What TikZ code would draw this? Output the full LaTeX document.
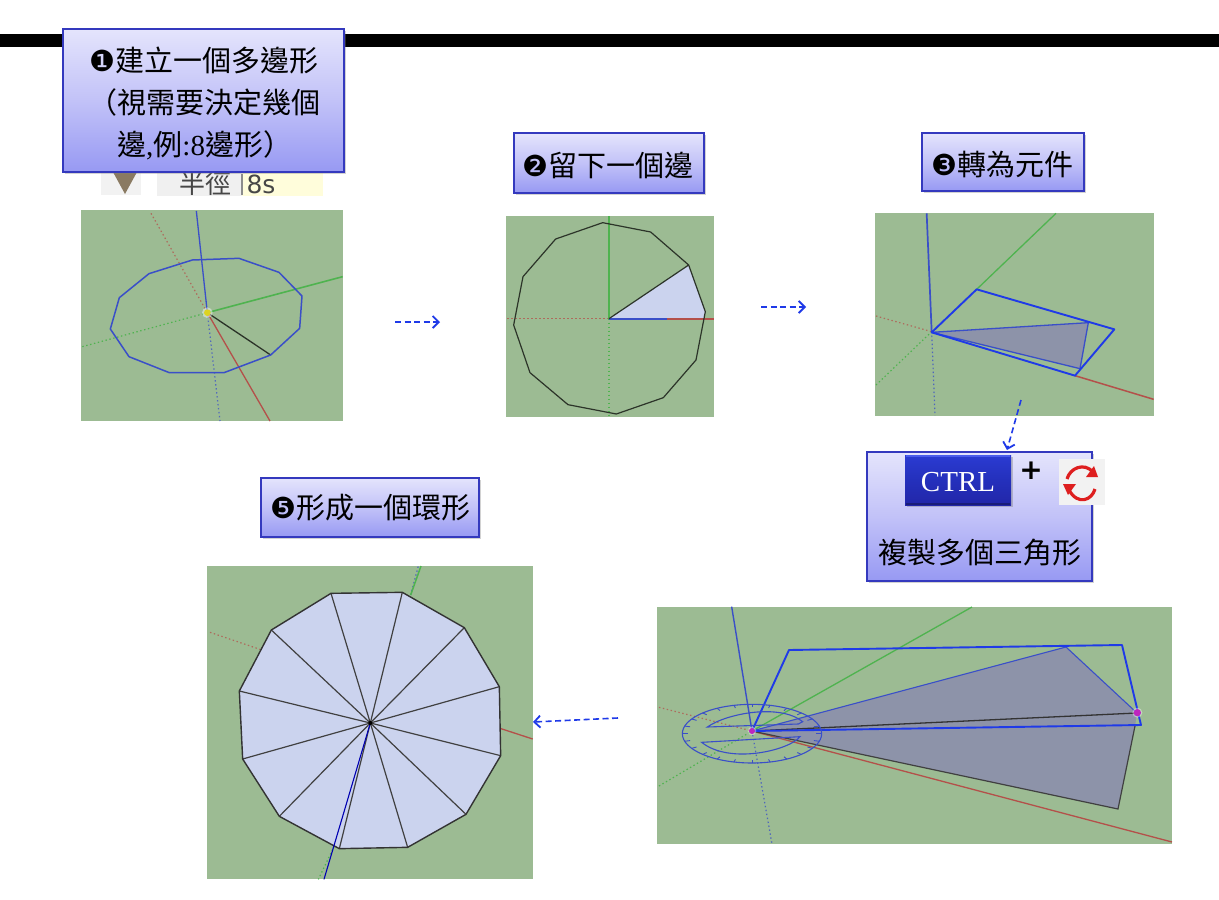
\documentclass[tikz,border=0pt]{standalone}
\usepackage{fontspec}
\setmainfont{Liberation Serif}
\newfontfamily\cjk{Noto Sans CJK TC}
\newfontfamily\symf{DejaVu Sans}
\usetikzlibrary{arrows.meta,shadows}
\definecolor{pbg}{HTML}{9CBB93}
\definecolor{axb}{HTML}{3A4FC8}
\definecolor{axr}{HTML}{B4504A}
\definecolor{axg}{HTML}{4FB34F}
\definecolor{edgeb}{HTML}{1F3AE8}
\definecolor{wedge}{HTML}{CBD3EE}
\definecolor{grayfill}{HTML}{8D93A9}
\definecolor{boxedge}{HTML}{3439BE}
\definecolor{boxtop}{HTML}{E4E4FC}
\definecolor{boxmid}{HTML}{C2C2F8}
\definecolor{boxbot}{HTML}{9799F3}
\definecolor{tritone}{HTML}{8A7A62}
\definecolor{ctrltop}{HTML}{2B3BD2}
\definecolor{ctrlmid}{HTML}{2430BC}
\definecolor{ctrlbot}{HTML}{2226A8}
\definecolor{ctrlhi}{HTML}{4A5CEA}
\definecolor{ctrllo}{HTML}{1A1D78}
\definecolor{iconred}{HTML}{DE1F1F}
\newcommand{\capfont}{\cjk\fontsize{29}{42}\selectfont}
\newcommand{\numfont}{\symf\fontsize{29}{42}\selectfont}
\tikzset{
  callout/.style={draw=boxedge,line width=1.2pt,top color=boxtop,bottom color=boxbot,middle color=boxmid,inner sep=0pt,
    drop shadow={opacity=.35,shadow xshift=2pt,shadow yshift=-2pt}},
  captext/.style={inner sep=0pt,font=\capfont,text=black},
  panel/.style={fill=pbg,draw=none,inner sep=0pt},
  flowarrow/.style={draw=edgeb,line width=1.6pt,dash pattern=on 6pt off 3.5pt,-{Straight Barb[length=6pt,width=12pt,line width=1.8pt]}},
  dotline/.style={line width=1.2pt,dash pattern=on 1.4pt off 2.6pt},
  solidax/.style={line width=1.3pt},
  edgeline/.style={line width=1.2pt,draw=black!72!pbg},
  zoomed/.style={shift={(#1)},scale=0.33333}
}
\begin{document}
\begin{tikzpicture}[x=1pt,y=-1pt]
\useasboundingbox (0,0) rectangle (1219,900);
\fill[white] (0,0) rectangle (1219,900);
\fill[black] (0,34) rectangle (1219,47);

% toolbar crop
\fill[black!5] (101,172) rectangle (141,195);
\fill[black!6] (157,172) rectangle (242,196);
\fill[yellow!14] (242,172) rectangle (323,196);
\fill[tritone] (113,172) -- (137,172) -- (125,194) -- cycle;
\node[inner sep=0pt,text=black!72,font=\cjk\fontsize{26}{26}\selectfont] (tbl) at (205,184) {半徑};
\node[inner sep=0pt,text=black!72,font=\symf\fontsize{25}{25}\selectfont] (tbv) at (261,184) {8s};
\fill[black!45] (241,174) rectangle (242.5,195);

% panels
\node[panel,minimum width=262pt,minimum height=211pt] (p1) at (212,315.5) {};
\node[panel,minimum width=208pt,minimum height=201pt] (p2) at (610,316.5) {};
\node[panel,minimum width=279pt,minimum height=203pt] (p3) at (1014.5,314.5) {};
\node[panel,minimum width=515pt,minimum height=237pt] (p4) at (914.5,725.5) {};
\node[panel,minimum width=326pt,minimum height=313pt] (p5) at (370,722.5) {};

% panel 1
\begin{scope}[zoomed={75,205}]
\draw[axr!75!pbg,dotline] (228,25) -- (397,323);
\draw[axb!75!pbg,dotline] (397,323) -- (435,648);
\draw[axg,dotline] (22,425) -- (397,323);
\draw[axb,solidax] (364,18) -- (397,323);
\draw[axr,solidax] (397,323) -- (585,648);
\draw[axg,line width=1.6pt] (397,323) -- (803,215);
\draw[edgeline,line width=1.3pt] (397,323) -- (587,450);
\draw[axb,line width=1.5pt,line join=round] (352,165) -- (492,160) -- (612,202) -- (681,273) -- (674,370) -- (587,450) -- (447,503) -- (283,503) -- (162,455) -- (106,372) -- (133,278) -- (222,206) -- cycle;
\fill[white,opacity=.45] (397,323) circle (16);
\fill[yellow!85!black] (397,323) circle (10);
\end{scope}

% panel 2
\begin{scope}[zoomed={500,210}]
\fill[wedge] (327,326) -- (566,165) -- (616,305) -- (611,326) -- cycle;
\draw[axr!75!pbg,dotline] (22,326) -- (327,326);
\draw[axg,dotline] (327,326) -- (327,620);
\draw[axg,line width=1.7pt] (327,18) -- (327,326);
\draw[axr,line width=1.7pt] (500,326) -- (642,326);
\draw[axb,line width=1.7pt] (327,326) -- (500,326);
\draw[edgeline] (327,326) -- (566,165);
\draw[edgeline,line join=round] (308,38) -- (452,66) -- (566,165) -- (616,305) -- (588,450) -- (490,563) -- (349,612) -- (204,584) -- (90,488) -- (41,345) -- (69,200) -- (167,87) -- cycle;
\end{scope}

% panel 3
\begin{scope}[zoomed={870,210}]
\draw[axr!75!pbg,dotline] (18,318) -- (185,365);
\draw[axg,dotline] (18,525) -- (185,365);
\draw[axb!80!pbg,dotline] (185,365) -- (195,617);
\draw[axb,line width=1.7pt] (170,10) -- (185,365);
\draw[axg,solidax] (320,238) -- (558,10);
\draw[axr,line width=1.5pt] (615,497) -- (851,568);
\fill[grayfill] (185,367) -- (655,338) -- (630,476) -- cycle;
\draw[axb,line width=1.3pt,line join=round] (185,367) -- (655,338) -- (630,476) -- cycle;
\draw[edgeb,line width=1.9pt,line join=round] (185,367) -- (320,238) -- (733,358) -- (615,497) -- cycle;
\end{scope}

% panel 4
\begin{scope}[zoomed={650,600}]
\draw[axr!75!pbg,dotline] (27,322) -- (306,393);
\draw[axg,dotline] (27,558) -- (306,393);
\draw[axb!80!pbg,dotline] (306,393) -- (366,732);
\draw[axb,line width=1.4pt] (245,20) -- (306,393);
\draw[axg,solidax] (306,393) -- (966,21);
\draw[axr,solidax] (306,393) -- (1566,726);
\fill[grayfill] (306,393) -- (1248,141) -- (1461,339) -- (1455,378) -- (1404,627) -- cycle;
\draw[black!75,line width=1.2pt] (306,393) -- (1404,627) -- (1455,378);
\draw[black!80,line width=1.3pt] (306,393) -- (1461,339);
\draw[axb,line width=1.1pt] (306,393) -- (1248,141) -- (1461,339);
\draw[edgeb,line width=1.9pt,line join=round] (306,393) -- (417,150) -- (1416,135) -- (1473,375) -- cycle;
% protractor
\draw[axb,line width=1.1pt] (306,401) ellipse (209 and 88);
\foreach \a in {0,15,...,345} {\draw[axb,line width=.9pt] ({306+209*cos(\a)},{401+88*sin(\a)}) -- ({306+192*cos(\a)},{401+80*sin(\a)});}
\draw[axb,line width=1.1pt] (172,381) .. controls (230,340) and (390,310) .. (458,365) -- (445,372) -- cycle;
\draw[axb,line width=1.1pt] (155,427) -- (450,410) .. controls (420,450) and (240,495) .. (155,427) -- cycle;
\fill[white,opacity=.4] (306,393) circle (13);
\fill[violet!60!magenta!85!white] (306,393) circle (9);
\end{scope}
\begin{scope}[zoomed={940,620}]
\fill[white,opacity=.4] (592,278) circle (15);
\fill[violet!60!magenta!85!white] (592,278) circle (11);
\end{scope}

% panel 5
\begin{scope}[zoomed={200,560}]
\draw[axb!80!pbg,dotline] (632,105) -- (655,18);
\draw[axg,line width=1.5pt] (632,105) -- (663,18);
\draw[axr!75!pbg,dotline] (30,217) -- (180,268);
\draw[axr,solidax] (900,505) -- (998,537);
\draw[axg,dotline] (403,858) -- (355,958);
\fill[wedge] (393,100) -- (607,97) -- (793,203) -- (898,380) -- (902,587) -- (798,763) -- (623,862) -- (418,866) -- (238,769) -- (128,597) -- (118,393) -- (214,210) -- cycle;
\foreach \p in {(393,100),(607,97),(793,203),(898,380),(902,587),(798,763),(623,862),(418,866),(238,769),(128,597),(118,393),(214,210)} {\draw[edgeline,draw=black!75] (511,489) -- \p;}
\draw[edgeline,draw=black!80,line width=1.4pt,line join=round] (393,100) -- (607,97) -- (793,203) -- (898,380) -- (902,587) -- (798,763) -- (623,862) -- (418,866) -- (238,769) -- (128,597) -- (118,393) -- (214,210) -- cycle;
\draw[blue!70!black,line width=1.1pt] (511,489) -- (372,958);
\fill[black] (511,489) circle (6);
\end{scope}

% callouts
\node[callout,minimum width=281pt,minimum height=143pt] (b1) at (203.5,100.5) {};
\node[callout,minimum width=190pt,minimum height=60pt] (b2) at (609,163) {};
\node[callout,minimum width=162pt,minimum height=58pt] (b3) at (1003,162) {};
\node[callout,minimum width=225pt,minimum height=129pt] (b4) at (979.5,516.5) {};
\node[callout,minimum width=218pt,minimum height=59pt] (b5) at (370,507.5) {};
\node[captext,align=left,anchor=west] (t1) at (87,103) {\hspace*{2pt}{\numfont ❶}建立一個多邊形\\\hspace*{1pt}（視需要決定幾個\\\hspace*{30pt}邊{\rmfamily,}例{\rmfamily:8}邊形）};
\node[captext] (t2) at (608,165) {{\numfont ❷}留下一個邊};
\node[captext] (t3) at (1002,164) {{\numfont ❸}轉為元件};
\node[captext] (t5) at (370,508) {{\numfont ❺}形成一個環形};

% ctrl + icon
\node[inner sep=0pt,minimum width=106pt,minimum height=50pt,top color=ctrltop,bottom color=ctrlbot,middle color=ctrlmid,
  drop shadow={opacity=.4,shadow xshift=1.5pt,shadow yshift=-1.5pt}] (ctrl) at (958,480) {};
\draw[ctrlhi,line width=2pt] ([yshift=-1.5pt,xshift=1pt]ctrl.north west) -- ([yshift=-1.5pt,xshift=-1pt]ctrl.north east);
\draw[ctrllo,line width=2pt] ([yshift=1pt,xshift=1pt]ctrl.south west) -- ([yshift=1pt,xshift=-1pt]ctrl.south east);
\node[inner sep=0pt,text=white,font=\fontsize{29}{29}\selectfont] (ctxt) at (958,482) {CTRL};
\node[inner sep=0pt,font=\symf\bfseries\fontsize{28}{28}\selectfont] (plus) at (1031,471) {+};
\node[fill=black!5,inner sep=0pt,minimum width=46pt,minimum height=46pt] (icon) at (1082,482) {};
\draw[iconred,line width=3.2pt] (1067,479) .. controls (1070,468) and (1084,462) .. (1093,472);
\fill[iconred] (1086,477) -- (1098,477) -- (1094,466) -- cycle;
\draw[iconred,line width=3.2pt] (1095,489) .. controls (1092,500) and (1078,506) .. (1069,490);
\fill[iconred] (1063,484) -- (1076,484) -- (1068,495) -- cycle;
\node[inner sep=0pt,font=\cjk\fontsize{29}{29}\selectfont] (cap4) at (980,553) {複製多個三角形};

% arrows
\coordinate (a1s) at (395,322); \coordinate (a1e) at (440,322);
\coordinate (a2s) at (761,307); \coordinate (a2e) at (806,307);
\coordinate (a3s) at (1021,400); \coordinate (a3e) at (1007,450);
\coordinate (a4s) at (618,718); \coordinate (a4e) at (533,722);
\draw[flowarrow] (a1s) -- (a1e);
\draw[flowarrow] (a2s) -- (a2e);
\draw[flowarrow] (a3s) -- (a3e);
\draw[flowarrow] (a4s) -- (a4e);
\end{tikzpicture}
\end{document}
